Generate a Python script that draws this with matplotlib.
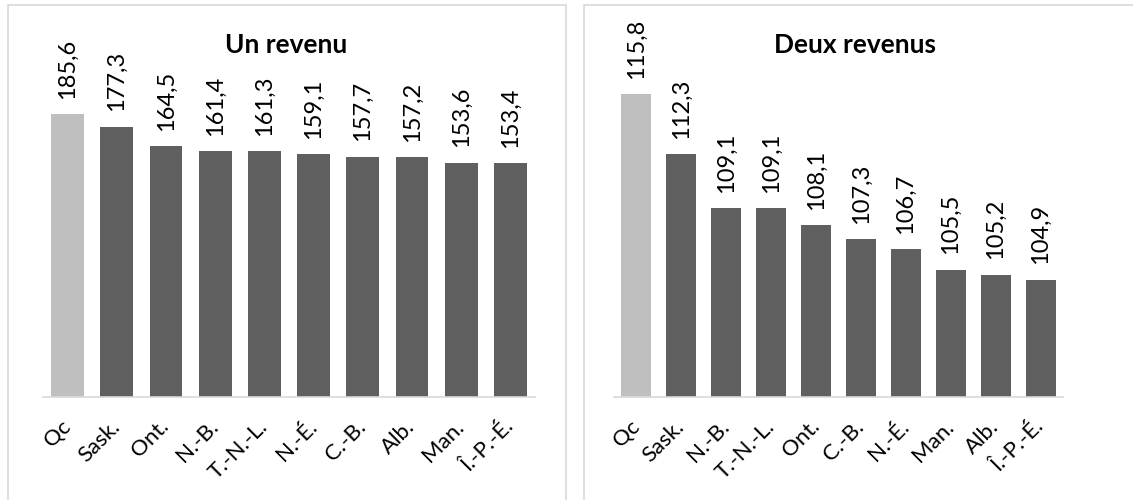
import matplotlib.pyplot as plt
from matplotlib.patches import Rectangle

plt.rcParams['font.family'] = ['Lato', 'DejaVu Sans']

# Un revenu
prov_un = ['Qc', 'Sask.', 'Ont.', 'N.-B.', 'T.-N.-L.', 'N.-É.', 'C.-B.', 'Alb.', 'Man.', 'Î.-P.-É.']
val_un = [185.6, 177.3, 164.5, 161.4, 161.3, 159.1, 157.7, 157.2, 153.6, 153.4]

# Deux revenus
prov_deux = ['Qc', 'Sask.', 'N.-B.', 'T.-N.-L.', 'Ont.', 'C.-B.', 'N.-É.', 'Man.', 'Alb.', 'Î.-P.-É.']
val_deux = [115.8, 112.3, 109.1, 109.1, 108.1, 107.3, 106.7, 105.5, 105.2, 104.9]

W, H = 1133, 500
fig = plt.figure(figsize=(W / 100, H / 100), dpi=100)

# panel frames
for x0, x1 in [(8, 566), (584, 1140)]:
    fig.patches.append(Rectangle((x0 / W, -0.1), (x1 - x0) / W, (H - 5) / H + 0.1,
                                 transform=fig.transFigure, fill=False,
                                 edgecolor='#D9D9D9', lw=1.2))


def panel(left, width, labels, values, ylim, title, title_x):
    ax = fig.add_axes([left / W, (H - 397) / H, width / W, 392 / H])
    x = range(len(values))
    colors = ['#BFBFBF'] + ['#5F5F5F'] * (len(values) - 1)
    ax.bar(x, [v - ylim[0] for v in values], bottom=ylim[0], width=0.67, color=colors)
    ax.set_xlim(-0.5, len(values) - 0.5)
    ax.set_ylim(*ylim)
    for s in ['top', 'right', 'left']:
        ax.spines[s].set_visible(False)
    ax.spines['bottom'].set_color('#D9D9D9')
    ax.spines['bottom'].set_linewidth(1.2)
    ax.set_yticks([])
    ax.set_xticks(list(x))
    ax.set_xticklabels(labels, rotation=45, ha='right', va='center',
                       rotation_mode='anchor', fontsize=16)
    ax.tick_params(axis='x', length=0, pad=19)
    for i, v in enumerate(values):
        ax.annotate(f'{v:.1f}'.replace('.', ','), (i, v), xytext=(0, 11),
                    textcoords='offset points', rotation=90, ha='center',
                    va='bottom', fontsize=17)
    fig.text(title_x / W, (H - 45) / H, title, ha='center', va='center',
             fontsize=19, fontweight='bold')
    return ax


panel(43, 492, prov_un, val_un, (0, 392 / 1.525), 'Un revenu', 286)
panel(614, 449, prov_deux, val_deux, (98, 98 + 392 / 17.0), 'Deux revenus', 855)

fig.savefig('out.png', dpi=100)
